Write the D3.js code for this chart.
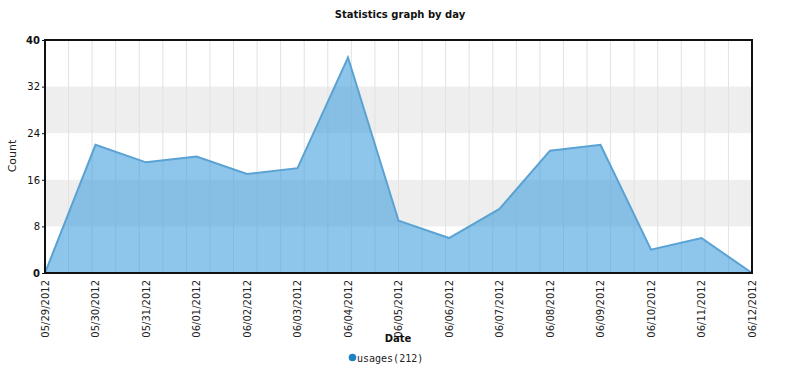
<!DOCTYPE html>
<html><head><meta charset="utf-8">
<script src="https://cdn.jsdelivr.net/npm/d3@7"></script>
<style>body{margin:0;background:#fff;} svg{display:block;font-family:"DejaVu Sans",Verdana,sans-serif;}</style>
</head><body>
<script>
const dates = ["05/29/2012","05/30/2012","05/31/2012","06/01/2012","06/02/2012","06/03/2012","06/04/2012","06/05/2012","06/06/2012","06/07/2012","06/08/2012","06/09/2012","06/10/2012","06/11/2012","06/12/2012"];
const usages = [0,22,19,20,17,18,37,9,6,11,21,22,4,6,0];
const yTicks = [0,8,16,24,32,40];
const seriesName = "usages";

const W=799,H=374, m={l:45,r:47,t:40,b:101};
const svg=d3.select("body").append("svg").attr("width",W).attr("height",H);
const x=d3.scalePoint().domain(dates).range([m.l,W-m.r]);
const y=d3.scaleLinear().domain([0,40]).range([H-m.b,m.t]);
const g=svg.append("g");
// bands
for(let i=0;i<yTicks.length-1;i++){
  if(i%2===1) g.append("rect").attr("x",m.l).attr("width",W-m.r-m.l).attr("y",y(yTicks[i+1])).attr("height",y(yTicks[i])-y(yTicks[i+1])).attr("fill","#eeeeee");
}
// vertical grid
const gx=d3.scaleLinear().domain([0,30]).range([m.l,W-m.r]);
g.selectAll("line.vg").data(d3.range(1,30)).join("line").attr("x1",d=>gx(d)).attr("x2",d=>gx(d)).attr("y1",m.t).attr("y2",H-m.b).attr("stroke","#e2e2e2").attr("stroke-width",1);
// area
const pts=dates.map((d,i)=>({d,v:usages[i]}));
g.append("path").datum(pts).attr("d",d3.area().x(p=>x(p.d)).y0(y(0)).y1(p=>y(p.v))).attr("fill","rgba(60,155,220,0.58)");
g.append("path").datum(pts).attr("d",d3.line().x(p=>x(p.d)).y(p=>y(p.v))).attr("fill","none").attr("stroke","#5aa2d3").attr("stroke-width",2);
// frame
g.append("rect").attr("x",m.l).attr("y",m.t).attr("width",W-m.r-m.l).attr("height",H-m.b-m.t).attr("fill","none").attr("stroke","#111").attr("stroke-width",2);
// y axis
const ya=svg.append("g").attr("transform",`translate(${m.l},0)`).call(d3.axisLeft(y).tickValues(yTicks).tickSize(3).tickPadding(2));
ya.select(".domain").remove();
ya.selectAll("line").attr("stroke","#111");
ya.selectAll("text").attr("font-family","DejaVu Sans").attr("font-size",10).attr("fill","#111").attr("font-weight",d=>(d===0||d===40)?"bold":"normal");
// x axis
const xa=svg.append("g").attr("transform",`translate(0,${H-m.b})`).call(d3.axisBottom(x).tickSize(0));
xa.select(".domain").remove();
xa.selectAll("text").attr("font-family","DejaVu Sans").attr("font-size",10).attr("fill","#222")
  .attr("transform","rotate(-90)").attr("text-anchor","end").attr("dx",-7).attr("dy","0.32em").attr("y",0).attr("x",0);
// titles
svg.append("text").attr("x",400).attr("y",18).attr("text-anchor","middle").attr("font-size",10).attr("font-weight","bold").attr("fill","#111").text("Statistics graph by day");
svg.append("text").attr("x",398).attr("y",342).attr("text-anchor","middle").attr("font-size",10).attr("font-weight","bold").attr("fill","#111").text("Date");
svg.append("text").attr("transform","translate(16,156) rotate(-90)").attr("text-anchor","middle").attr("font-size",11).attr("fill","#222").text("Count");
// legend
svg.append("circle").attr("cx",352.5).attr("cy",357.5).attr("r",3.8).attr("fill","#1f80c6");
svg.append("text").attr("x",357).attr("y",362).attr("font-family","DejaVu Sans Mono").attr("font-size",10).attr("fill","#222").text(`${seriesName}(${d3.sum(usages)})`);
</script>
</body></html>
